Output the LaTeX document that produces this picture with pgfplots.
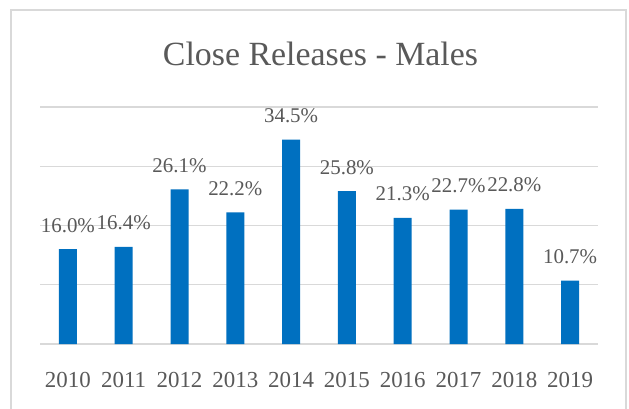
\documentclass[border=0pt]{standalone}
\usepackage{fontspec}
\setmainfont{Liberation Serif}
\usepackage{pgfplots}
\pgfplotsset{compat=1.18}
\definecolor{barblue}{HTML}{0070C0}
\definecolor{txtgray}{HTML}{595959}
\definecolor{gridgray}{HTML}{D9D9D9}
\begin{document}
\begin{tikzpicture}[x=1bp,y=1bp]
\useasboundingbox (0,0) rectangle (629,408);
\fill[white] (0,0) rectangle (629,408);
\draw[gridgray, line width=1.5bp] (11,398) rectangle (626,-30);
\node[text=txtgray, font=\fontsize{34}{40}\selectfont, anchor=base, inner sep=0] at (320.5,343) {Close Releases - Males};
\begin{axis}[
  at={(40bp,64bp)}, anchor=south west,
  scale only axis, width=558bp, height=237bp,
  xmin=-0.5, xmax=9.5, ymin=0, ymax=40,
  ybar, bar width=18bp,
  axis line style={draw=none},
  ymajorgrids, grid style={gridgray, line width=1.2bp},
  ytick={0,10,20,30,40}, yticklabels={},
  xtick={0,...,9},
  xticklabels={2010,2011,2012,2013,2014,2015,2016,2017,2018,2019},
  major tick length=0,
  xticklabel style={font=\fontsize{23}{28}\selectfont, text=txtgray, anchor=base, yshift=-43bp},
  /pgf/number format/.cd, fixed, fixed zerofill, precision=1, assume math mode=true, /pgfplots/.cd,
  nodes near coords={\pgfmathprintnumber{\pgfplotspointmeta}\%},
  nodes near coords style={font=\fontsize{21}{25}\selectfont, text=txtgray, anchor=base, yshift=17bp, inner sep=0},
]
\addplot[fill=barblue, draw=none] coordinates {
(0,16.0) (1,16.4) (2,26.1) (3,22.2) (4,34.5) (5,25.8) (6,21.3) (7,22.7) (8,22.8) (9,10.7)};
\end{axis}
\end{tikzpicture}
\end{document}
